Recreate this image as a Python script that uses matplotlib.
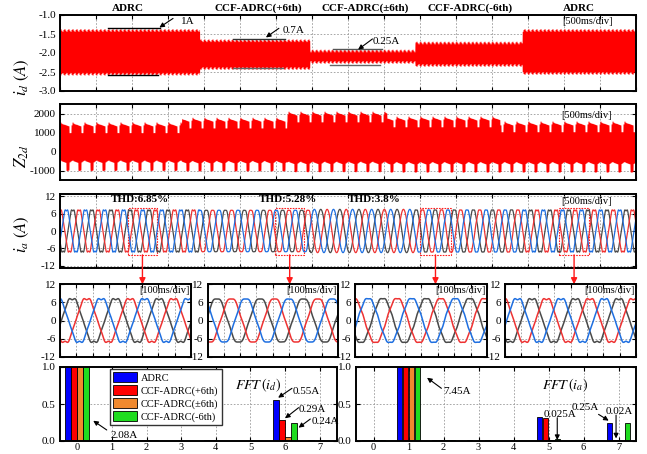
import numpy as np
import matplotlib.pyplot as plt
from matplotlib.patches import Rectangle
from matplotlib.ticker import FormatStrFormatter
from matplotlib.transforms import blended_transform_factory

plt.rcParams['font.family'] = ['Liberation Serif', 'DejaVu Serif']
plt.rcParams['mathtext.fontset'] = 'stix'
plt.rcParams['axes.unicode_minus'] = False
plt.rcParams['font.size'] = 7.5

W, H = 647, 454

# ---------------- data ----------------
ctrl = ['ADRC', 'CCF-ADRC(+6th)', 'CCF-ADRC(\u00b16th)', 'CCF-ADRC(-6th)']
seg_ctrl = [0, 1, 2, 3, 0]            # controller used in each of the 5 time segments

# i_d band (A); segment edges in s
id_edges = [0.0, 1.94, 3.47, 4.93, 6.42, 8.0]
id_top = [-1.36, -1.63, -1.90, -1.69, -1.36]
id_bot = [-2.58, -2.43, -2.27, -2.35, -2.56]
id_tooth = [0.0, -0.04, -0.07, -0.02]

# Z_2d band
z_edges = [0.0, 1.69, 3.15, 4.54, 6.11, 8.0]
z_top = [1550, 1800, 2120, 1860, 1600]
z_bot = [-450, -470, -510, -530, -530]
z_tooth_up = [0, -60, -90, -110, -120, -140, -160, -180, -200, -560, -560, -150]
z_tooth_lo = [0, -40, -60, -80, -100, -120, -540, -560, -520, -100, -60, -20]

# harmonic spectra (A), harmonic order 0..7
harm = [0, 1, 2, 3, 4, 5, 6, 7]
fft_id = [
    [2.08, 0.010, 0.020, 0.003, 0.010, 0.005, 0.55, 0.010],
    [2.08, 0.010, 0.015, 0.003, 0.010, 0.005, 0.29, 0.005],
    [2.08, 0.008, 0.010, 0.003, 0.005, 0.005, 0.05, 0.005],
    [2.08, 0.010, 0.015, 0.003, 0.005, 0.005, 0.24, 0.005],
]
fft_ia = [
    [0.020, 7.45, 0.015, 0.010, 0.005, 0.32, 0.005, 0.25],
    [0.020, 7.45, 0.015, 0.005, 0.005, 0.31, 0.005, 0.02],
    [0.015, 7.45, 0.010, 0.005, 0.005, 0.010, 0.005, 0.005],
    [0.020, 7.45, 0.010, 0.010, 0.005, 0.025, 0.005, 0.24],
]
ia_period = 265                        # ms, fundamental period of i_a

# zoom windows (s) in the i_a panel and the zoomed panels below
rect_t0 = [0.94, 2.99, 5.00, 6.93]
rect_t1 = [1.35, 3.39, 5.43, 7.35]
zoom_ctrl = [0, 1, 3, 0]
zoom_peak = [163, 146, 254, -12]       # ms, first red-phase peak in each zoom panel

thd_text = ['THD:6.85%', 'THD:5.28%', 'THD:3.8%']
thd_t = [1.11, 3.17, 4.37]

bar_colors = ['#0000ff', '#ff0000', '#f0892e', '#1fdc1f']
phase_colors = ['#ee3333', '#1f6fe0', '#4a4a4a']


# ---------------- helpers ----------------
def add_ax(l, t, r, b):
    return fig.add_axes([l / W, 1 - b / H, (r - l) / W, (b - t) / H])


def style(ax):
    for s in ax.spines.values():
        s.set_linewidth(1.4)
    ax.tick_params(direction='in', top=True, right=True, length=3, width=0.8,
                   labelsize=8, pad=3)
    ax.grid(True, color='#999999', ls=(0, (2, 2)), lw=0.6)
    ax.set_axisbelow(True)


def phase_current(theta, a1, a5, a7, k):
    th = theta - k * 2 * np.pi / 3
    return a1 * np.cos(th) - a5 * np.cos(5 * th) - a7 * np.cos(7 * th)


def seg_index(t, edges):
    return np.clip(np.searchsorted(edges, t, side='right') - 1, 0, len(edges) - 2)


arrow_k = dict(arrowstyle='-|>', color='k', lw=0.8, mutation_scale=7, shrinkA=0, shrinkB=0)

fig = plt.figure(figsize=(W / 100, H / 100), dpi=100)

# ---------------- i_d ----------------
t = np.arange(0, 8.0, 0.002)
step_idx = np.floor(t * 72).astype(int)
ax1 = add_ax(60, 15, 636, 91)
style(ax1)
seg = seg_index(t, id_edges)
tooth = np.array(id_tooth)[step_idx % len(id_tooth)]
ax1.fill_between(t, np.array(id_bot)[seg] - tooth, np.array(id_top)[seg] + tooth,
                 color='#ff0000', lw=0)
ax1.set_xlim(0, 8)
ax1.set_ylim(-3, -1)
ax1.set_xticks(np.arange(0, 8.01, 0.5))
ax1.set_yticks([-3, -2.5, -2, -1.5, -1])
ax1.yaxis.set_major_formatter(FormatStrFormatter('%.1f'))
ax1.tick_params(labelbottom=False)

trans1 = blended_transform_factory(ax1.transData, ax1.transAxes)
seg_mid = [0.94, 2.75, 4.24, 5.69, 7.21]
for i, c in enumerate(seg_ctrl):
    ax1.text(seg_mid[i], 1.09, ctrl[c], transform=trans1, ha='center', va='center',
             fontsize=8, fontweight='bold', clip_on=False)

# peak-to-peak marker lines
ax1.plot([0.67, 1.39], [-1.35, -1.35], color='k', lw=1)
ax1.plot([0.67, 1.36], [-2.57, -2.57], color='k', lw=1)
ax1.plot([2.40, 3.12], [-1.64, -1.64], color='#333333', lw=1)
ax1.plot([2.40, 3.10], [-2.40, -2.40], color='#666666', lw=1)
ax1.plot([3.79, 4.47], [-1.90, -1.90], color='#555555', lw=1)
ax1.plot([3.75, 4.44], [-2.32, -2.32], color='#666666', lw=1)
ax1.annotate('', xy=(1.38, -1.33), xytext=(1.57, -1.09), arrowprops=arrow_k, annotation_clip=False)
ax1.text(1.78, -1.18, '1A', ha='center', va='center', fontsize=8)
ax1.annotate('', xy=(2.86, -1.59), xytext=(3.04, -1.35), arrowprops=arrow_k)
ax1.text(3.24, -1.41, '0.7A', ha='center', va='center', fontsize=8)
ax1.annotate('', xy=(4.14, -1.91), xytext=(4.34, -1.63), arrowprops=arrow_k)
ax1.text(4.53, -1.71, '0.25A', ha='center', va='center', fontsize=8)
ax1.text(7.32, -1.18, '[500ms/div]', ha='center', va='center', fontsize=7.5)

# ---------------- Z_2d ----------------
ax2 = add_ax(60, 104, 636, 180)
style(ax2)
seg = seg_index(t, z_edges)
up = np.array(z_top)[seg] + np.array(z_tooth_up)[step_idx % 12]
lo = np.array(z_bot)[seg] + np.array(z_tooth_lo)[step_idx % 12]
ax2.fill_between(t, lo, up, color='#ff0000', lw=0)
ax2.set_xlim(0, 8)
ax2.set_ylim(-1500, 2500)
ax2.set_xticks(np.arange(0, 8.01, 0.5))
ax2.set_yticks([-1000, 0, 1000, 2000])
ax2.tick_params(labelbottom=False)
ax2.text(7.31, 0.846, '[500ms/div]', transform=blended_transform_factory(ax2.transData, ax2.transAxes),
         ha='center', va='center', fontsize=7.5)

# ---------------- i_a ----------------
ax3 = add_ax(60, 194, 636, 268)
style(ax3)
ta = np.linspace(0, 8, 9000)
seg = seg_index(ta, id_edges)
amps = np.array(fft_ia)[np.array(seg_ctrl)[seg]]
theta = 2 * np.pi * ta / (ia_period / 1000)
for k in [2, 0, 1]:
    ax3.plot(ta, phase_current(theta, amps[:, 1], amps[:, 5], amps[:, 7], k),
             color=phase_colors[k], lw=0.9)
ax3.set_xlim(0, 8)
ax3.set_ylim(-12.7, 12.7)
ax3.set_xticks(np.arange(0, 8.01, 0.5))
ax3.set_yticks([-12, -6, 0, 6, 12])
ax3.tick_params(labelbottom=False)
trans3 = blended_transform_factory(ax3.transData, ax3.transAxes)
for s, x in zip(thd_text, thd_t):
    ax3.text(x, 0.92, s, transform=trans3, ha='center', va='center', fontsize=8, fontweight='bold')
ax3.text(7.31, 0.905, '[500ms/div]', transform=trans3, ha='center', va='center', fontsize=7.5)

# ---------------- zoomed i_a ----------------
zoom_px = [(60, 191), (207.5, 338), (355.5, 487), (505, 636)]
tz = np.linspace(0, 800, 800)
for j, (l, r) in enumerate(zoom_px):
    ax = add_ax(l, 284.3, r, 356.7)
    style(ax)
    a = fft_ia[zoom_ctrl[j]]
    th = 2 * np.pi * (tz - zoom_peak[j]) / ia_period
    for k in [2, 0, 1]:
        ax.plot(tz, phase_current(th, a[1], a[5], a[7], k), color=phase_colors[k], lw=1.1)
    ax.set_xlim(0, 800)
    ax.set_ylim(-12, 12)
    ax.set_xticks(np.arange(0, 801, 100))
    ax.set_yticks([-12, -6, 0, 6, 12])
    ax.tick_params(labelbottom=False)
    ax.text(0.99, 0.92, '[100ms/div]', transform=ax.transAxes, ha='right', va='center', fontsize=7.5)

    # dashed window in the i_a panel and the red arrow down to the zoom
    ax3.add_patch(Rectangle((rect_t0[j], -8.2), rect_t1[j] - rect_t0[j], 16.2, fill=False,
                            ec='#ff2020', lw=0.8, ls=(0, (1.5, 1))))
    tc = (rect_t0[j] + rect_t1[j]) / 2
    ax3.annotate('', xy=(tc, 1.0), xycoords=blended_transform_factory(ax3.transData, ax.transAxes),
                 xytext=(tc, -8.2), textcoords='data', annotation_clip=False,
                 arrowprops=dict(arrowstyle='-|>', color='#ff1a1a', lw=1, mutation_scale=9,
                                 shrinkA=0, shrinkB=0))

# ---------------- FFT bars ----------------
offsets = [-0.26, -0.087, 0.087, 0.26]


def fft_panel(l, r, data):
    ax = add_ax(l, 367, r, 441)
    style(ax)
    for i, vals in enumerate(data):
        ax.bar(np.array(harm) + offsets[i], vals, width=0.165, color=bar_colors[i],
               edgecolor='k', lw=0.6, label=ctrl[i])
    ax.set_xlim(-0.5, 7.5)
    ax.set_ylim(0, 1)
    ax.set_xticks(harm)
    ax.set_yticks([0, 0.5, 1])
    ax.yaxis.set_major_formatter(FormatStrFormatter('%.1f'))
    ax.tick_params(axis='x', labelsize=7.5, pad=1.5)
    ax.grid(axis='y', visible=False)
    ax.axhline(0.5, color='#999999', ls=(0, (2, 2)), lw=0.6, zorder=0)
    return ax


axf1 = fft_panel(60, 337, fft_id)
axf1.legend(loc='upper left', bbox_to_anchor=(0.18, 0.97), fontsize=7.5, fancybox=False,
            framealpha=1, edgecolor='#333333', borderpad=0.3, labelspacing=0.22,
            handlelength=2.3, handleheight=1.1, handletextpad=0.4, borderaxespad=0)
axf1.annotate('', xy=(0.46, 0.274), xytext=(0.85, 0.149), arrowprops=arrow_k)
axf1.text(1.34, 0.08, '2.08A', ha='center', va='center', fontsize=8)
axf1.text(5.23, 0.747, r'$FFT\,(i_d)$', ha='center', va='center', fontsize=10)
axf1.annotate('', xy=(5.80, 0.585), xytext=(6.2, 0.712), arrowprops=arrow_k)
axf1.text(6.61, 0.666, '0.55A', ha='center', va='center', fontsize=8)
axf1.annotate('', xy=(6.0, 0.307), xytext=(6.39, 0.45), arrowprops=arrow_k)
axf1.text(6.78, 0.428, '0.29A', ha='center', va='center', fontsize=8)
axf1.annotate('', xy=(6.39, 0.18), xytext=(6.73, 0.297), arrowprops=arrow_k)
axf1.text(6.76, 0.27, '0.24A', ha='left', va='center', fontsize=8, clip_on=False)

axf2 = fft_panel(356, 636, fft_ia)
axf2.annotate('', xy=(1.53, 0.855), xytext=(1.94, 0.712), arrowprops=arrow_k)
axf2.text(2.40, 0.666, '7.45A', ha='center', va='center', fontsize=8)
axf2.text(5.48, 0.757, r'$FFT\,(i_a)$', ha='center', va='center', fontsize=10)
axf2.annotate('', xy=(5.25, 0.013), xytext=(5.25, 0.315), arrowprops=arrow_k)
axf2.text(5.34, 0.36, '0.025A', ha='center', va='center', fontsize=8)
axf2.annotate('', xy=(6.72, 0.275), xytext=(6.43, 0.36), arrowprops=arrow_k)
axf2.text(6.05, 0.45, '0.25A', ha='center', va='center', fontsize=8)
axf2.annotate('', xy=(6.93, 0.035), xytext=(6.93, 0.35), arrowprops=arrow_k)
axf2.text(7.02, 0.405, '0.02A', ha='center', va='center', fontsize=8)

# ---------------- y labels ----------------
fig.text(22 / W, 1 - 77 / H, r'$i_d\ (A)$', rotation=90, ha='center', va='center', fontsize=12)
fig.text(22 / W, 1 - 156 / H, r'$Z_{2d}$', rotation=90, ha='center', va='center', fontsize=12)
fig.text(22 / W, 1 - 234 / H, r'$i_a\ (A)$', rotation=90, ha='center', va='center', fontsize=12)

fig.savefig('out.png', dpi=100)
